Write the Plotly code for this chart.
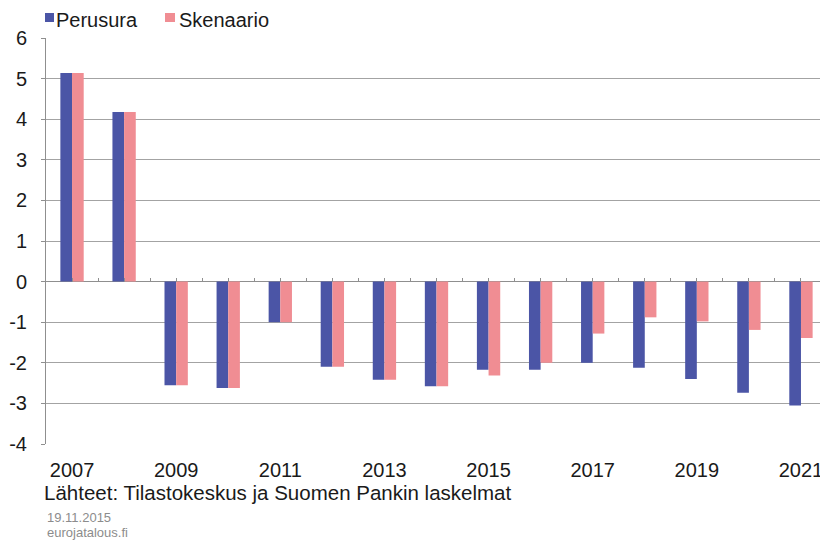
import plotly.graph_objects as go

years = list(range(2007, 2022))
perusura = [5.14, 4.18, -2.55, -2.62, -1.0, -2.1, -2.42, -2.58, -2.17, -2.17, -2.0, -2.12, -2.4, -2.74, -3.05]
skenaario = [5.14, 4.18, -2.55, -2.62, -1.0, -2.1, -2.42, -2.58, -2.31, -2.0, -1.28, -0.88, -0.98, -1.19, -1.39]
x_ticks = [2007, 2009, 2011, 2013, 2015, 2017, 2019, 2021]
y_ticks = [-4, -3, -2, -1, 0, 1, 2, 3, 4, 5, 6]
series_names = ["Perusura", "Skenaario"]

BLUE = "#4b55a6"
PINK = "#f08d93"
GRID = "#a3a3a3"
AXIS = "#8f8f8f"
TEXT = "#1a1a1a"
FONT = "Liberation Sans, Arial, sans-serif"

# the page body adds an 8px margin, so the figure is 8px smaller than the window
OFF = 8
W, H = 828 - OFF, 541 - OFF
ml, mr, mt, mb = 38, 1, 30, 97
pw, ph = W - ml - mr, H - mt - mb


def px(x):
    # window pixel x -> paper x
    return (x - OFF - ml) / pw


def py(y):
    # window pixel y -> paper y
    return (H - mb - (y - OFF)) / ph


fig = go.Figure()
fig.add_trace(go.Bar(x=years, y=perusura, name=series_names[0], marker=dict(color=BLUE, line=dict(width=0))))
fig.add_trace(go.Bar(x=years, y=skenaario, name=series_names[1], marker=dict(color=PINK, line=dict(width=0))))

# helper trace so the tick axis on the zero line gets drawn
fig.add_trace(go.Scatter(x=[years[0]], y=[0], xaxis="x2", mode="markers",
                         marker=dict(opacity=0), showlegend=False, hoverinfo="skip"))

fig.update_layout(
    width=W, height=H,
    margin=dict(l=ml, r=mr, t=mt, b=mb, autoexpand=False),
    paper_bgcolor="white", plot_bgcolor="white",
    font=dict(family=FONT, size=20.5, color=TEXT),
    barmode="group", bargap=0.552, bargroupgap=0,
    showlegend=False,
    xaxis=dict(range=[2006.5, 2021.5], tickvals=x_ticks, ticktext=[str(v) for v in x_ticks],
               tickfont=dict(size=20),
               showgrid=False, zeroline=False, showline=False,
               ticks="outside", ticklen=8, tickcolor="rgba(0,0,0,0)"),
    xaxis2=dict(overlaying="x", anchor="free", position=0.4, matches="x",
                range=[2006.5, 2021.5], tick0=2006.5, dtick=0.5, ticks="inside", ticklen=4,
                tickcolor=AXIS, showticklabels=False, showgrid=False, zeroline=False,
                showline=False),
    yaxis=dict(range=[-4, 6], tickvals=y_ticks, ticktext=[str(v) for v in y_ticks],
               tickfont=dict(size=20),
               showgrid=True, gridcolor=GRID, gridwidth=1,
               zeroline=True, zerolinecolor=AXIS, zerolinewidth=1,
               showline=True, linecolor=AXIS, linewidth=1,
               ticks="outside", ticklen=4, tickcolor=AXIS, ticklabelstandoff=10),
)

# legend drawn by hand (small swatch right next to the text, as in the original)
for name, color, sx0, sx1, tx in [(series_names[0], BLUE, 45, 54, 55),
                                  (series_names[1], PINK, 165, 175, 178)]:
    fig.add_shape(type="rect", xref="paper", yref="paper",
                  x0=px(sx0), x1=px(sx1), y0=py(22), y1=py(13),
                  fillcolor=color, line=dict(width=0))
    fig.add_annotation(text=name, xref="paper", yref="paper", x=px(tx), y=py(OFF),
                       xanchor="left", yanchor="top", showarrow=False, borderpad=0,
                       font=dict(size=20, color=TEXT))

fig.add_annotation(text="Lähteet: Tilastokeskus ja Suomen Pankin laskelmat", xref="paper", yref="paper",
                   x=px(42), y=py(493), xanchor="left", yanchor="middle", showarrow=False,
                   font=dict(size=20.5, color=TEXT))
fig.add_annotation(text="19.11.2015", xref="paper", yref="paper",
                   x=px(45), y=py(517.5), xanchor="left", yanchor="middle", showarrow=False,
                   font=dict(size=13, color="#8c8c8c"))
fig.add_annotation(text="eurojatalous.fi", xref="paper", yref="paper",
                   x=px(45), y=py(532.5), xanchor="left", yanchor="middle", showarrow=False,
                   font=dict(size=13, color="#8c8c8c"))

fig.write_html("out.html")
